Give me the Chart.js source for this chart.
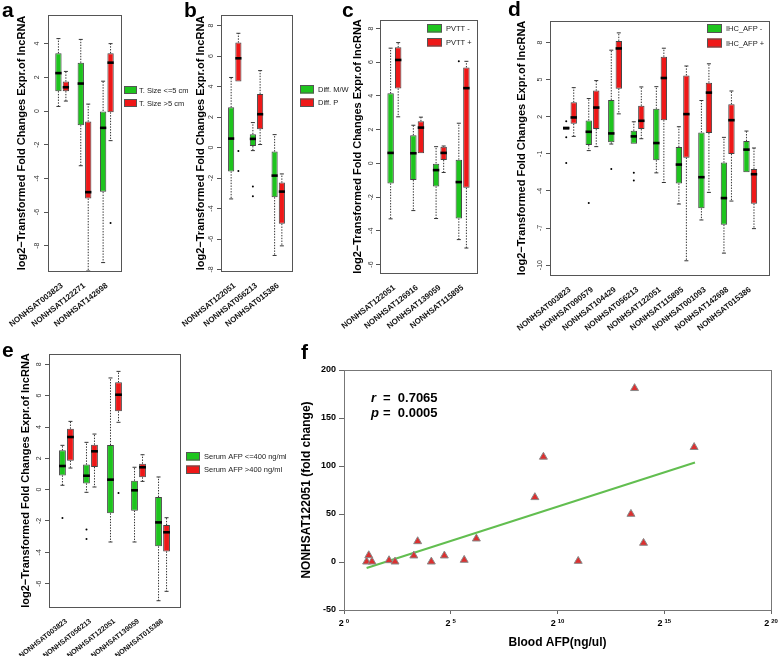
<!DOCTYPE html>
<html>
<head>
<meta charset="utf-8">
<script src="https://cdn.jsdelivr.net/npm/chart.js@4.4.1/dist/chart.umd.min.js"></script>
<style>
html,body{margin:0;padding:0;background:#fff;}
#wrap{position:relative;width:778px;height:656px;overflow:hidden;background:#fff;}
#wrap canvas{position:absolute;left:0;top:0;}
</style>
</head>
<body>
<div id="wrap">
<canvas id="ca" width="778" height="656"></canvas>
<canvas id="cb" width="778" height="656"></canvas>
<canvas id="cc" width="778" height="656"></canvas>
<canvas id="cd" width="778" height="656"></canvas>
<canvas id="ce" width="778" height="656"></canvas>
<canvas id="cf" width="778" height="656"></canvas>
</div>
<script>
// ---------------- DATA ----------------
// box statistics: [min whisker, Q1, median, Q3, max whisker]
const yTitle = 'log2\u2212Transformed Fold Changes Expr.of lncRNA';

// Panel a
const aCategories = ['NONHSAT003823', 'NONHSAT122271', 'NONHSAT142698'];
const aLegend = ['T. Size <=5 cm', 'T. Size >5 cm'];
const aGreen = [[0.27, 1.18, 2.25, 3.43, 4.3], [-3.25, -0.84, 1.63, 2.86, 4.25], [-9.0, -4.8, -1.0, 0, 1.77]];
const aRed = [[0.59, 1.18, 1.41, 1.75, 2.35], [-9.5, -5.2, -4.82, -0.63, 0.41], [-1.76, -0.08, 2.87, 3.43, 4.0]];
const aGreenOut = [[], [], []];
const aRedOut = [[], [], [-6.65]];
const aTicks = [-8, -6, -4, -2, 0, 2, 4];

// Panel b
const bCategories = ['NONHSAT122051', 'NONHSAT056213', 'NONHSAT015386'];
const bLegend = ['Diff. M/W', 'Diff. P'];
const bGreen = [[-3.37, -1.57, 0.59, 2.64, 4.6], [-0.2, 0.1, 0.57, 0.88, 1.64], [-7.08, -3.26, -1.84, -0.26, 0.85]];
const bRed = [[4.33, 4.33, 5.86, 6.89, 7.5], [0.2, 1.2, 2.19, 3.52, 5.05], [-6.45, -5.0, -2.89, -2.3, -1.73]];
const bGreenOut = [[], [-2.55, -3.2], []];
const bRedOut = [[-0.22, -1.53], [], []];
const bTicks = [-8, -6, -4, -2, 0, 2, 4, 6, 8];

// Panel c
const cCategories = ['NONHSAT122051', 'NONHSAT126916', 'NONHSAT139059', 'NONHSAT115895'];
const cLegend = ['PVTT -', 'PVTT +'];
const cGreen = [[-3.29, -1.19, 0.62, 4.15, 6.83], [-2.8, -0.99, 0.6, 1.67, 2.26], [-3.27, -1.37, -0.4, 0, 0.99], [-4.52, -3.27, -1.11, 0.22, 2.38]];
const cRed = [[2.76, 4.44, 6.13, 6.88, 7.16], [0.6, 0.6, 2.12, 2.5, 2.74], [-0.54, 0.2, 0.62, 0.99, 1.03], [-5.02, -1.45, 4.46, 5.69, 6.05]];
const cGreenOut = [[], [], [], [6.05]];
const cRedOut = [[], [], [], []];
const cTicks = [-6, -4, -2, 0, 2, 4, 6, 8];

// Panel d
const dCategories = ['NONHSAT003823', 'NONHSAT090579', 'NONHSAT104429', 'NONHSAT056213', 'NONHSAT122051', 'NONHSAT115895', 'NONHSAT001093', 'NONHSAT142698', 'NONHSAT015386'];
const dLegend = ['IHC_AFP -', 'IHC_AFP +'];
const dGreen = [[0.95, 0.95, 1.08, 1.21, 1.21], [-0.74, -0.29, 0.78, 1.7, 3.47], [-0.21, -0.07, 0.65, 3.36, 7.38],
  [-0.18, -0.18, 0.41, 0.86, 1.59], [-2.54, -1.52, -0.13, 2.64, 4.43], [-5.06, -3.4, -1.87, -0.45, 1.19],
  [-6.35, -5.41, -2.89, 0.73, 3.31], [-9.03, -6.73, -4.58, -1.71, 0.33], [-2.49, -2.49, -0.66, 0.03, 0.84]];
const dRed = [[0.41, 1.43, 1.94, 3.17, 4.35], [-0.42, 1.0, 2.74, 4.11, 4.92], [2.23, 4.27, 7.52, 8.13, 8.78],
  [0.22, 1.0, 1.67, 2.88, 4.41], [-3.32, 1.72, 5.13, 6.85, 7.54], [-9.65, -1.31, 2.21, 5.34, 6.1],
  [-4.12, 0.68, 3.95, 4.75, 6.28], [-4.82, -1.01, 1.72, 3.01, 4.08], [-7.05, -5.04, -2.65, -2.22, -0.53]];
const dGreenOut = [[1.64, 0.33, -1.74], [-4.98], [-2.22], [-2.54, -3.16], [], [], [], [], []];
const dRedOut = [[], [], [], [], [], [], [], [], []];
const dTicks = [-10, -7, -4, -1, 2, 5, 8];

// Panel e
const eCategories = ['NONHSAT003823', 'NONHSAT056213', 'NONHSAT122051', 'NONHSAT139059', 'NONHSAT015386'];
const eLegend = ['Serum AFP <=400 ng/ml', 'Serum AFP >400 ng/ml'];
const eGreen = [[0.28, 0.91, 1.51, 2.51, 2.83], [-0.17, 0.4, 0.89, 1.6, 3.02], [-3.34, -1.51, 0.64, 2.85, 7.13],
  [-3.34, -1.34, -0.04, 0.57, 1.43], [-7.09, -3.62, -2.09, -0.47, 0.81]];
const eRed = [[1.38, 1.85, 3.36, 3.89, 4.36], [0.17, 1.45, 2.45, 2.87, 3.55], [4.3, 5.0, 6.06, 6.85, 7.55],
  [0.53, 0.79, 1.43, 1.66, 2.23], [-6.49, -3.94, -2.72, -2.26, -1.79]];
const eGreenOut = [[-1.81], [-2.55, -3.15], [], [], []];
const eRedOut = [[], [], [-0.21], [], []];
const eTicks = [-6, -4, -2, 0, 2, 4, 6, 8];

// Panel f : x = log2(Blood AFP), y = fold change
const fLog2AFP = [1.16, 1.06, 1.31, 2.11, 2.39, 3.27, 3.45, 4.09, 4.7, 5.63, 6.2, 8.94, 9.34, 10.97, 13.44, 13.61, 14.03, 16.4];
const fFoldChange = [6.9, 0.3, 0.3, 1.7, 0.3, 6.6, 21.5, 0.3, 6.6, 2.1, 24.3, 67.4, 109.5, 1.0, 50, 181, 19.8, 119.6];
const fFitX = [1.06, 16.44];
const fFitY = [-6.3, 103.6];
const fXTicks = [0, 5, 10, 15, 20];
const fYTicks = [-50, 0, 50, 100, 150, 200];
const fStatNames = ['r', 'p'];
const fStatValues = ['0.7065', '0.0005'];

// ---------------- STYLE / PLUGINS ----------------
const FONT = "'Liberation Sans', Arial, Helvetica, sans-serif";
const GREEN = '#1ec41e';
const RED = '#ee1818';
Chart.defaults.font.family = FONT;
Chart.defaults.color = '#111';

const framePlugin = {
  id: 'frame',
  afterDatasetsDraw(chart, args, o) {
    const {left, top, right, bottom} = chart.chartArea;
    const ctx = chart.ctx;
    ctx.save();
    ctx.strokeStyle = o.color || '#555';
    ctx.lineWidth = 1;
    ctx.strokeRect(Math.round(left) + 0.5, Math.round(top) + 0.5, Math.round(right - left), Math.round(bottom - top));
    ctx.restore();
  }
};

const rotYTicks = {
  id: 'rotYTicks',
  afterDraw(chart, args, o) {
    const s = chart.scales.y, ctx = chart.ctx;
    ctx.save();
    ctx.font = (o.size || 7) + 'px ' + FONT;
    ctx.fillStyle = '#333';
    ctx.textAlign = 'center';
    ctx.textBaseline = 'middle';
    s.ticks.forEach(t => {
      const y = s.getPixelForValue(t.value);
      ctx.save();
      ctx.translate(chart.chartArea.left - o.offset, y);
      ctx.rotate(-Math.PI / 2);
      ctx.fillText(String(t.value), 0, 0);
      ctx.restore();
    });
    ctx.restore();
  }
};

const boxLegend = {
  id: 'boxLegend',
  afterDraw(chart, args, o) {
    const ctx = chart.ctx;
    const items = chart.data.datasets.filter(d => d.type === 'bar');
    ctx.save();
    items.forEach((ds, k) => {
      const y = o.y + k * o.dy;
      ctx.fillStyle = ds.backgroundColor;
      ctx.fillRect(o.x, y, o.w, o.h);
      ctx.strokeStyle = '#555';
      ctx.lineWidth = 1;
      ctx.strokeRect(o.x + 0.5, y + 0.5, o.w - 1, o.h - 1);
      ctx.fillStyle = '#222';
      ctx.font = (o.size || 7.5) + 'px ' + FONT;
      ctx.textAlign = 'left';
      ctx.textBaseline = 'middle';
      ctx.fillText(ds.label, o.tx, y + o.h / 2 + 0.5);
    });
    ctx.restore();
  }
};

const panelLetter = {
  id: 'panelLetter',
  afterDraw(chart, args, o) {
    const ctx = chart.ctx;
    ctx.save();
    ctx.font = 'bold 21px ' + FONT;
    ctx.fillStyle = '#000';
    ctx.textAlign = 'left';
    ctx.textBaseline = 'alphabetic';
    ctx.fillText(o.text, o.x, o.y);
    ctx.restore();
  }
};

function boxChart(id, p) {
  const u = (p.area.r - p.area.l) / (p.xRange[1] - p.xRange[0]);
  const boxW = 0.85 * u;
  const gx = i => 3 * i + 1, rx = i => 3 * i + 2;
  const medians = [], caps = [], whisk = [], outs = [];
  [[p.green, p.greenOut, gx], [p.red, p.redOut, rx]].forEach(([stats, out, fx]) => {
    stats.forEach((s, i) => {
      const x = fx(i);
      medians.push({x, y: s[2]});
      if (s[4] > s[3]) { whisk.push({x, y: s[3]}, {x, y: s[4]}, {x, y: null}); caps.push({x, y: s[4]}); }
      if (s[0] < s[1]) { whisk.push({x, y: s[1]}, {x, y: s[0]}, {x, y: null}); caps.push({x, y: s[0]}); }
      out[i].forEach(v => outs.push({x, y: v}));
    });
  });
  const titleSize = 11, titleLH = titleSize * 1.2;
  const padLeft = p.titleX - titleLH / 2;
  const XH = Math.min(62, 656 - p.area.b);
  return new Chart(document.getElementById(id), {
    type: 'bar',
    data: {
      datasets: [
        {type: 'scatter', label: 'median', data: medians, pointStyle: 'line', pointRadius: boxW / 2, pointHoverRadius: boxW / 2,
          pointBorderWidth: 2.6, pointBorderColor: '#000', borderColor: '#000', order: 0},
        {type: 'scatter', label: 'outliers', data: outs, pointStyle: 'circle', pointRadius: 1, pointBackgroundColor: '#000',
          backgroundColor: '#000', pointBorderWidth: 0, borderWidth: 0, order: 1},
        {type: 'scatter', label: 'caps', data: caps, pointStyle: 'line', pointRadius: 2, pointBorderWidth: 1,
          pointBorderColor: '#333', borderColor: '#333', order: 2},
        {type: 'bar', label: p.legend[0], data: p.green.map((s, i) => ({x: gx(i), y: [s[1], s[3]]})),
          backgroundColor: GREEN, borderColor: '#444', borderWidth: 1, borderSkipped: false, grouped: false,
          barPercentage: 0.85, categoryPercentage: 1, order: 3},
        {type: 'bar', label: p.legend[1], data: p.red.map((s, i) => ({x: rx(i), y: [s[1], s[3]]})),
          backgroundColor: RED, borderColor: '#444', borderWidth: 1, borderSkipped: false, grouped: false,
          barPercentage: 0.85, categoryPercentage: 1, order: 4},
        {type: 'line', label: 'whiskers', data: whisk, borderColor: '#333', borderWidth: 1, borderDash: [1.4, 1.4],
          pointRadius: 0, spanGaps: false, fill: false, order: 5}
      ]
    },
    options: {
      responsive: false, animation: false, events: [],
      layout: {autoPadding: false, padding: {left: padLeft, top: p.area.t, right: 778 - p.area.r, bottom: 656 - p.area.b - XH}},
      plugins: {
        legend: {display: false}, tooltip: {enabled: false},
        frame: {color: '#555'},
        rotYTicks: {offset: p.tickOffset, size: 7},
        boxLegend: p.legendBox,
        panelLetter: p.letter
      },
      scales: {
        x: {
          type: 'linear', min: p.xRange[0], max: p.xRange[1], offset: false, bounds: 'data',
          grid: {display: false, offset: false}, border: {display: false},
          afterBuildTicks: s => { s.ticks = p.cats.map((c, i) => ({value: 3 * i + 1.5})); },
          ticks: {autoSkip: false, minRotation: 38, maxRotation: 38, padding: 2, color: '#111',
            font: {family: FONT, size: p.labelSize || 8, weight: 'bold'}, callback: (v, i) => p.cats[i]},
          afterFit: s => { s.height = XH; s.paddingLeft = 0; s.paddingRight = 0; s.paddingTop = 0; s.paddingBottom = 0; }
        },
        y: {
          type: 'linear', min: p.yRange[0], max: p.yRange[1], bounds: 'data', beginAtZero: false,
          border: {display: false},
          grid: {drawOnChartArea: false, drawTicks: true, tickLength: 4, color: '#555'},
          afterBuildTicks: s => { s.ticks = p.yTicks.map(v => ({value: v})); },
          ticks: {display: false},
          title: {display: true, text: yTitle, color: '#000', padding: 0, font: {family: FONT, size: titleSize, weight: 'bold'}},
          afterFit: s => { s.width = p.area.l - padLeft; s.paddingTop = 0; s.paddingBottom = 0; s.paddingLeft = 0; s.paddingRight = 0; }
        }
      }
    },
    plugins: [framePlugin, rotYTicks, boxLegend, panelLetter]
  });
}

boxChart('ca', {cats: aCategories, legend: aLegend, green: aGreen, red: aRed, greenOut: aGreenOut, redOut: aRedOut, yTicks: aTicks,
  area: {l: 48, t: 15, r: 121, b: 271}, yRange: [-9.5, 5.7], xRange: [-0.4, 9.4], titleX: 22, tickOffset: 11,
  legendBox: {x: 124, y: 86, w: 13, h: 8, dy: 13, tx: 139, size: 7.5}, letter: {text: 'a', x: 2, y: 17}});

boxChart('cb', {cats: bCategories, legend: bLegend, green: bGreen, red: bRed, greenOut: bGreenOut, redOut: bRedOut, yTicks: bTicks,
  area: {l: 221, t: 15, r: 292, b: 271}, yRange: [-8.1, 8.7], xRange: [-0.4, 9.4], titleX: 201, tickOffset: 10,
  legendBox: {x: 300, y: 85, w: 14, h: 8.5, dy: 13.5, tx: 318, size: 7.5}, letter: {text: 'b', x: 184, y: 17}});

boxChart('cc', {cats: cCategories, legend: cLegend, green: cGreen, red: cRed, greenOut: cGreenOut, redOut: cRedOut, yTicks: cTicks,
  area: {l: 380, t: 20, r: 477, b: 273}, yRange: [-6.5, 8.5], xRange: [-0.4, 12.4], titleX: 357.5, tickOffset: 9,
  legendBox: {x: 427, y: 24, w: 15, h: 8.5, dy: 14, tx: 446, size: 7.5}, letter: {text: 'c', x: 342, y: 17}});

boxChart('cd', {cats: dCategories, legend: dLegend, green: dGreen, red: dRed, greenOut: dGreenOut, redOut: dRedOut, yTicks: dTicks,
  area: {l: 550, t: 21, r: 769, b: 275}, yRange: [-10.8, 9.74], xRange: [-1.16, 28.0], titleX: 522, tickOffset: 10,
  legendBox: {x: 707, y: 24, w: 15, h: 9, dy: 14.5, tx: 726, size: 7.5}, letter: {text: 'd', x: 508, y: 16}});

boxChart('ce', {cats: eCategories, legend: eLegend, green: eGreen, red: eRed, greenOut: eGreenOut, redOut: eRedOut, yTicks: eTicks,
  area: {l: 49, t: 354, r: 180, b: 607}, yRange: [-7.49, 8.66], xRange: [-0.68, 15.68], titleX: 26, tickOffset: 10, labelSize: 7.2,
  legendBox: {x: 186, y: 452, w: 14, h: 8.5, dy: 13.5, tx: 204, size: 7.5}, letter: {text: 'e', x: 2, y: 357}});

// ---------------- Panel f ----------------
const expTicks = {
  id: 'expTicks',
  afterDraw(chart) {
    const s = chart.scales.x, ctx = chart.ctx;
    const y = chart.chartArea.bottom + 14;
    ctx.save();
    ctx.fillStyle = '#000';
    ctx.textAlign = 'left';
    ctx.textBaseline = 'middle';
    s.ticks.forEach(t => {
      const px = s.getPixelForValue(t.value);
      const exp = String(t.value);
      ctx.font = 'bold 9px ' + FONT;
      const wb = ctx.measureText('2').width;
      ctx.font = 'bold 6px ' + FONT;
      const we = ctx.measureText(exp).width;
      const x0 = px - (wb + 2 + we) / 2;
      ctx.font = 'bold 9px ' + FONT;
      ctx.fillText('2', x0, y);
      ctx.font = 'bold 6px ' + FONT;
      ctx.fillText(exp, x0 + wb + 2, y - 3);
    });
    ctx.restore();
  }
};
const statText = {
  id: 'statText',
  afterDraw(chart, args, o) {
    const ctx = chart.ctx;
    const {left, top} = chart.chartArea;
    ctx.save();
    ctx.fillStyle = '#000';
    ctx.textAlign = 'left';
    ctx.textBaseline = 'middle';
    fStatNames.forEach((n, k) => {
      const x = left + o.dx, y = top + o.dy + k * o.lh;
      ctx.font = 'italic bold 13px ' + FONT;
      ctx.fillText(n, x, y);
      ctx.font = 'bold 13px ' + FONT;
      ctx.fillText('=  ' + fStatValues[k], x + 12, y);
    });
    ctx.restore();
  }
};

(function () {
  const area = {l: 344, t: 370, r: 771, b: 610};
  const tSize = 12, tLH = tSize * 1.2;
  const padLeft = 307 - tLH / 2;
  const XH = 40;
  new Chart(document.getElementById('cf'), {
    type: 'scatter',
    data: {
      datasets: [
        {type: 'scatter', label: 'samples', data: fLog2AFP.map((x, i) => ({x, y: fFoldChange[i]})),
          pointStyle: 'triangle', pointRadius: 4.6, pointBackgroundColor: '#dc3030', pointBorderColor: '#8a8a8a',
          pointBorderWidth: 1, order: 0},
        {type: 'line', label: 'fit', data: fFitX.map((x, i) => ({x, y: fFitY[i]})), borderColor: '#62be50',
          borderWidth: 2, pointRadius: 0, fill: false, order: 1}
      ]
    },
    options: {
      responsive: false, animation: false, events: [],
      layout: {autoPadding: false, padding: {left: padLeft, top: area.t, right: 778 - area.r, bottom: 656 - area.b - XH}},
      plugins: {
        legend: {display: false}, tooltip: {enabled: false},
        frame: {color: '#777'},
        panelLetter: {text: 'f', x: 301, y: 359},
        statText: {dx: 27, dy: 28, lh: 15.5}
      },
      scales: {
        x: {
          type: 'linear', min: 0, max: 20, bounds: 'data',
          afterBuildTicks: s => { s.ticks = fXTicks.map(v => ({value: v})); },
          grid: {drawOnChartArea: false, drawTicks: true, tickLength: 4, color: '#666'},
          border: {display: false},
          ticks: {display: false},
          title: {display: true, text: 'Blood AFP(ng/ul)', color: '#000', padding: 0, font: {family: FONT, size: tSize, weight: 'bold'}},
          afterFit: s => { s.height = XH; s.paddingLeft = 0; s.paddingRight = 0; s.paddingTop = 0; s.paddingBottom = 0; }
        },
        y: {
          type: 'linear', min: -50, max: 200, bounds: 'data',
          afterBuildTicks: s => { s.ticks = fYTicks.map(v => ({value: v})); },
          grid: {drawOnChartArea: false, drawTicks: true, tickLength: 5, color: '#666'},
          border: {display: false},
          ticks: {padding: 3, color: '#000', font: {family: FONT, size: 9, weight: 'bold'}},
          title: {display: true, text: 'NONHSAT122051 (fold change)', color: '#000', padding: 0, font: {family: FONT, size: tSize, weight: 'bold'}},
          afterFit: s => { s.width = area.l - padLeft; s.paddingTop = 0; s.paddingBottom = 0; s.paddingLeft = 0; s.paddingRight = 0; }
        }
      }
    },
    plugins: [framePlugin, panelLetter, expTicks, statText]
  });
})();
</script>
</body>
</html>
